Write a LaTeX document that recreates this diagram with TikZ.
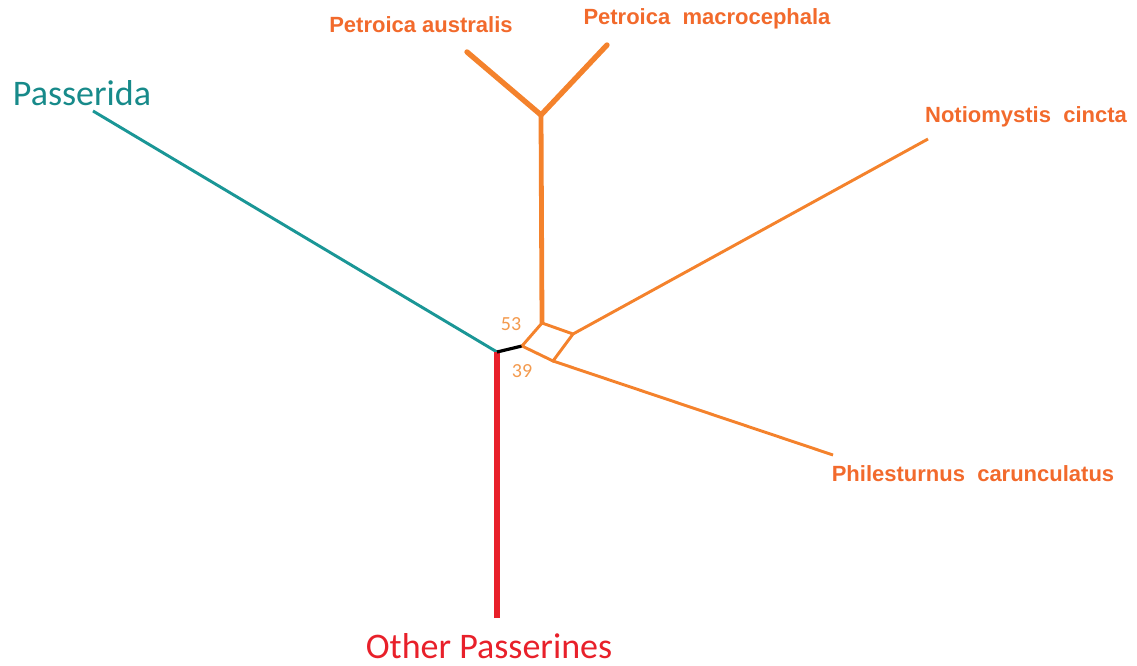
\documentclass[tikz,border=0pt]{standalone}
\usepackage{fontspec}
\setmainfont{Liberation Sans}
\newfontfamily\calib{Carlito}
\definecolor{orng}{HTML}{F4822C}
\definecolor{orngtxt}{HTML}{F26A2C}
\definecolor{numc}{HTML}{F39A4E}
\definecolor{teal}{HTML}{1A9696}
\definecolor{tealtxt}{HTML}{178A8A}
\definecolor{redc}{HTML}{E8202A}
\begin{document}
\begin{tikzpicture}[x=0.75pt,y=-0.75pt,
  branch/.style={line width=4pt,line cap=round,color=orng},
  thin/.style={line width=2.2pt,color=orng},
  sp/.style={font=\bfseries\fontsize{16.5}{19}\selectfont,text=orngtxt,inner sep=0pt},
  big/.style={font=\calib\fontsize{27}{31}\selectfont,inner sep=0pt},
  num/.style={font=\calib\fontsize{15}{17}\selectfont,text=numc,inner sep=0pt}]
\useasboundingbox (0,0) rectangle (1137,666);
% coordinates
\coordinate (root) at (497,352);
\coordinate (red) at (497,618);
\coordinate (pas) at (93,111);
\coordinate (A) at (522,346);
\coordinate (B) at (542,323);
\coordinate (C) at (553,361);
\coordinate (D) at (573,334);
\coordinate (Y) at (541,115);
\coordinate (PA) at (467,52);
\coordinate (PM) at (607,45);
\coordinate (NC) at (928,139);
\coordinate (PC) at (833,455);
% edges
\draw[line width=2.2pt,color=teal] (root) -- (pas);
\draw[line width=4.5pt,color=redc] (red) -- (root);
\draw[line width=2.4pt,black] (root) -- (A);
\draw[thin] (A) -- (B) -- (D) -- (C) -- (A);
\draw[thin] (D) -- (NC);
\draw[thin] (C) -- (PC);
\draw[line width=3.6pt,color=orng] (B) -- (Y);
\draw[branch] (PA) -- (Y) -- (PM);
% labels
\node[sp] (lpa) at (421,25) {Petroica australis};
\node[sp] (lpm) at (707,19) {Petroica\ \ macrocephala};
\node[sp] (lnc) at (1026,117) {Notiomystis\ \ cincta};
\node[sp] (lpc) at (973,474) {Philesturnus\ \ carunculatus};
\node[big,text=tealtxt] (lpas) at (82,93) {Passerida};
\node[big,text=redc] (lop) at (489,646) {Other Passerines};
\node[num] (n53) at (511,324) {53};
\node[num] (n39) at (522,371) {39};
\end{tikzpicture}
\end{document}
